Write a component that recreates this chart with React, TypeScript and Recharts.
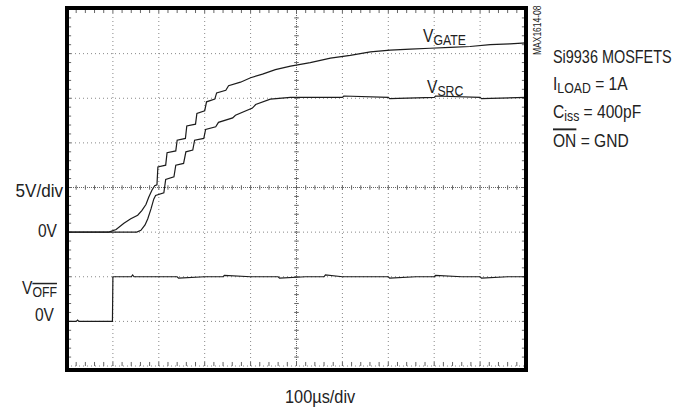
import { LineChart, Line, XAxis, YAxis, CartesianGrid, ReferenceLine } from 'recharts';
import type { ReactNode } from 'react';

// time in µs (100µs/div), voltages in V (5V/div)
const GATE_T = [0, 91, 107, 124, 139, 154, 163, 172, 178, 185, 191, 196, 198, 215, 218, 237, 240, 258, 261, 280, 283, 300, 304, 322, 326, 346, 352, 378, 400, 426, 454, 487, 530, 574, 617, 661, 704, 748, 791, 835, 878, 922, 965, 1000];
const GATE_V = [0, 0, 0.3, 1.0, 1.5, 1.9, 2.4, 3.1, 3.9, 4.7, 5.2, 5.3, 7.3, 7.5, 8.9, 9.1, 10.3, 10.5, 11.9, 12.1, 13.3, 13.6, 14.6, 14.9, 15.6, 15.9, 16.4, 16.8, 17.3, 17.7, 18.2, 18.6, 19.0, 19.5, 19.8, 20.2, 20.4, 20.5, 20.6, 20.7, 20.8, 21.0, 21.1, 21.2];

const SRC_T = [0, 152, 161, 170, 176, 183, 189, 193, 211, 215, 233, 237, 254, 259, 274, 278, 298, 302, 324, 330, 361, 367, 404, 411, 443, 487, 530, 600, 603, 700, 703, 800, 803, 900, 903, 1000];
const SRC_V = [0, 0, 0.2, 0.8, 1.5, 2.6, 3.7, 4.1, 4.4, 5.9, 6.2, 7.5, 7.7, 9.0, 9.2, 10.3, 10.5, 11.5, 11.8, 12.3, 12.8, 13.1, 13.9, 14.3, 14.9, 15.1, 15.1, 15.1, 15.25, 15.1, 14.95, 15.1, 15.25, 15.1, 14.95, 15.1];

const OFF_T = [0, 20, 23, 26, 60, 99, 100, 105, 140, 143, 146, 200, 240, 243, 300, 340, 343, 400, 460, 463, 520, 560, 563, 600, 660, 700, 703, 760, 800, 803, 860, 900, 903, 960, 1000];
const OFF_V = [0, 0, 0.15, 0, 0, 0, 5, 5, 5, 5.2, 5, 5, 5, 4.85, 5, 5, 5.15, 5, 5, 4.85, 5, 5, 5.2, 5, 5, 5, 4.85, 5, 5, 5.15, 5, 5, 4.85, 5, 5];

// screen offsets in divisions for each channel's 0V
const GATE_ZERO = 3;
const OFF_ZERO = 1;
const VOLTS_PER_DIV = 5;

const X_GRID = [0, 100, 200, 300, 400, 500, 600, 700, 800, 900, 1000];
const Y_GRID = [0, 1, 2, 3, 4, 5, 6, 7, 8];

const toRows = (t: number[], v: number[], zero: number) =>
  t.map((x, i) => ({ t: x, d: zero + v[i] / VOLTS_PER_DIV }));

const gateData = toRows(GATE_T, GATE_V, GATE_ZERO);
const srcData = toRows(SRC_T, SRC_V, GATE_ZERO);
const offData = toRows(OFF_T, OFF_V, OFF_ZERO);

// minor ticks every 1/5 division
const MINOR_X = Array.from({ length: 49 }, (_, i) => (i + 1) * 20);
const MINOR_Y = Array.from({ length: 39 }, (_, i) => (i + 1) * 0.2);

const FONT = '"Liberation Sans", Arial, sans-serif';
const TRACE = '#1c1c1c';
const TICK = '#666';

// condensed-looking label: plain text squeezed horizontally
function Label({ x, y, sx = 0.82, anchor = 'start', size = 19, children }: {
  x: number; y: number; sx?: number; anchor?: 'start' | 'end'; size?: number; children: ReactNode;
}) {
  return (
    <g transform={`translate(${x} ${y}) scale(${sx} 1)`}>
      <text x={0} y={0} fontSize={size} textAnchor={anchor}>{children}</text>
    </g>
  );
}

export default function App() {
  const ticks: JSX.Element[] = [];
  MINOR_X.forEach((x, i) => {
    ticks.push(<ReferenceLine key={`hc${i}`} segment={[{ x, y: 3.95 }, { x, y: 4.05 }]} stroke={TICK} />);
    ticks.push(<ReferenceLine key={`hb${i}`} segment={[{ x, y: 0 }, { x, y: 0.09 }]} stroke={TICK} />);
    ticks.push(<ReferenceLine key={`ht${i}`} segment={[{ x, y: 7.91 }, { x, y: 8 }]} stroke={TICK} />);
  });
  MINOR_Y.forEach((y, i) => {
    ticks.push(<ReferenceLine key={`vc${i}`} segment={[{ x: 495, y }, { x: 505, y }]} stroke={TICK} />);
    ticks.push(<ReferenceLine key={`vl${i}`} segment={[{ x: 0, y }, { x: 9, y }]} stroke={TICK} />);
    ticks.push(<ReferenceLine key={`vr${i}`} segment={[{ x: 991, y }, { x: 1000, y }]} stroke={TICK} />);
  });

  return (
    <div style={{ position: 'absolute', left: 0, top: 0, width: 687, height: 408, background: '#fff' }}>
      <LineChart width={687} height={408} margin={{ top: 9, right: 161, bottom: 42, left: 67 }}>
        <XAxis type="number" dataKey="t" domain={[0, 1000]} ticks={X_GRID} hide allowDuplicatedCategory={false} />
        <YAxis type="number" domain={[0, 8]} ticks={Y_GRID} hide />
        <CartesianGrid stroke="#888" strokeDasharray="1 3" />
        <ReferenceLine x={500} stroke="#666" strokeDasharray="1 1" />
        <ReferenceLine y={4} stroke="#666" strokeDasharray="1 1" />
        {ticks}
        <Line data={gateData} dataKey="d" type="linear" stroke={TRACE} strokeWidth={1.2} dot={false} isAnimationActive={false} />
        <Line data={srcData} dataKey="d" type="linear" stroke={TRACE} strokeWidth={1.2} dot={false} isAnimationActive={false} />
        <Line data={offData} dataKey="d" type="linear" stroke={TRACE} strokeWidth={1.2} dot={false} isAnimationActive={false} />
      </LineChart>

      <div
        style={{
          position: 'absolute',
          left: 65,
          top: 6,
          width: 463,
          height: 366,
          border: '4px solid #000',
          boxSizing: 'border-box',
          pointerEvents: 'none',
        }}
      />

      <svg width={687} height={408} style={{ position: 'absolute', left: 0, top: 0, pointerEvents: 'none' }} fontFamily={FONT} fill="#222">
        <Label x={423} y={42}>
          V<tspan fontSize={15} dy={3}>GATE</tspan>
        </Label>
        <Label x={427} y={93}>
          V<tspan fontSize={15} dy={3}>SRC</tspan>
        </Label>

        <Label x={63} y={197} sx={0.9} anchor="end">5V/div</Label>
        <Label x={57} y={237} anchor="end">0V</Label>
        <Label x={22} y={294}>
          V<tspan fontSize={15} dy={3} style={{ textDecoration: 'overline' }}>OFF</tspan>
        </Label>
        <Label x={54} y={321} anchor="end">0V</Label>

        <Label x={285} y={403} sx={0.86}>100µs/div</Label>

        <Label x={553} y={63} sx={0.76}>Si9936 MOSFETS</Label>
        <Label x={553} y={90}>
          I<tspan fontSize={15} dy={3}>LOAD</tspan><tspan dy={-3}> = 1A</tspan>
        </Label>
        <Label x={553} y={118}>
          C<tspan fontSize={15} dy={3}>iss</tspan><tspan dy={-3}> = 400pF</tspan>
        </Label>
        <Label x={553} y={147}>
          <tspan style={{ textDecoration: 'overline' }}>ON</tspan> = GND
        </Label>

        <g transform="translate(541 55) rotate(-90) scale(0.85 1)">
          <text x={0} y={0} fontSize={10}>MAX1614-08</text>
        </g>
      </svg>
    </div>
  );
}
